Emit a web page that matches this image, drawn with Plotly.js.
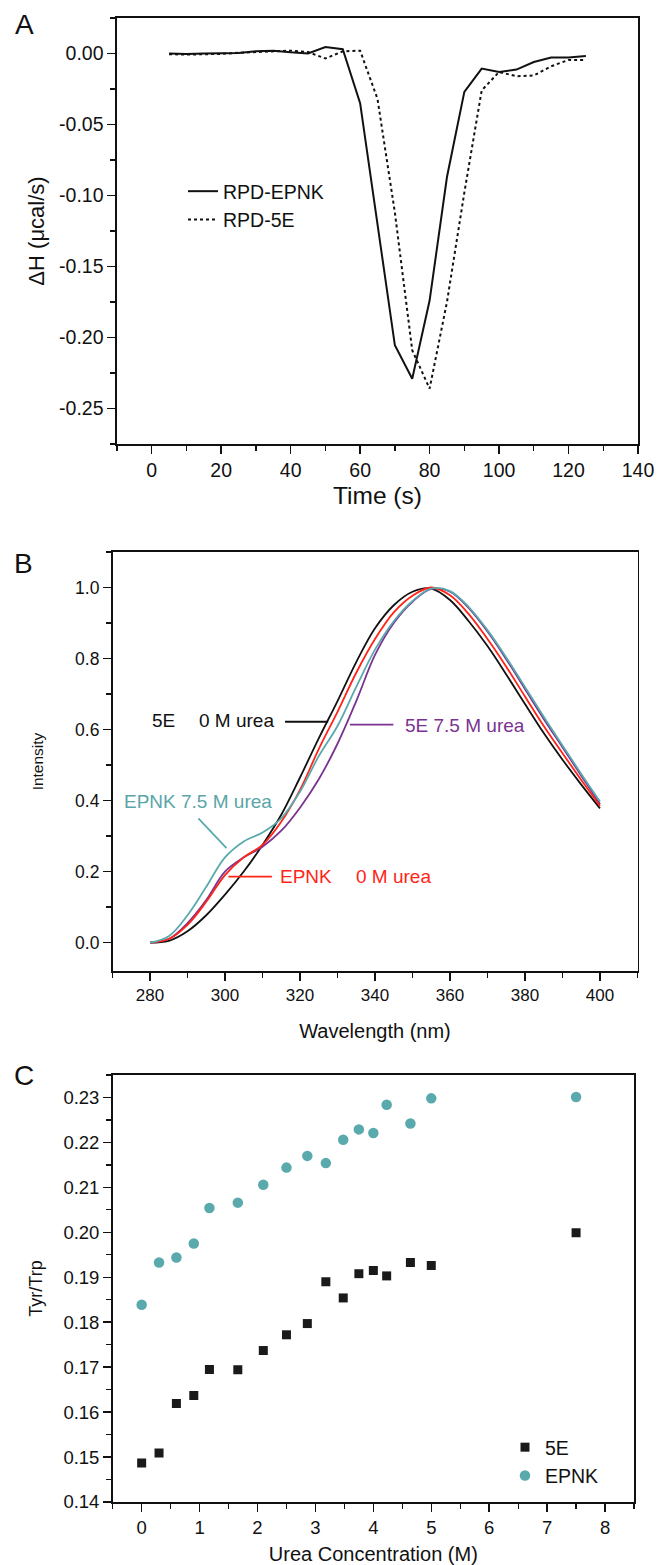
<!DOCTYPE html>
<html>
<head>
<meta charset="utf-8">
<script src="https://cdn.plot.ly/plotly-3.0.1.min.js"></script>
<style>html,body{margin:0;padding:0;background:#fff;}#chart{width:657px;height:1565px;}</style>
</head>
<body>
<div id="chart"></div>
<script>
// ---------- Panel A: ITC thermogram ----------
const timeS = [5,10,15,20,25,30,35,40,45,50,55,60,65,70,75,80,85,90,95,100,105,110,115,120,125];
const dhEPNK = [0,-0.0003,0,0,0.0003,0.0015,0.002,0.0008,0,0.0045,0.003,-0.035,-0.12,-0.2055,-0.229,-0.174,-0.087,-0.027,-0.0106,-0.013,-0.0113,-0.006,-0.0028,-0.0028,-0.0017];
const dh5E = [-0.0005,-0.0008,-0.0005,-0.0003,0.0005,0.001,0.0015,0.002,0.001,-0.0035,0.0015,0.002,-0.032,-0.112,-0.209,-0.236,-0.175,-0.098,-0.026,-0.013,-0.016,-0.0155,-0.009,-0.0045,-0.0045];
const dhTickVals = [0,-0.05,-0.10,-0.15,-0.20,-0.25];
const dhTickText = ['0.00','-0.05','-0.10','-0.15','-0.20','-0.25'];

// ---------- Panel B: fluorescence spectra ----------
const wavelength = [280,285,290,295,300,305,310,315,320,325,330,335,340,345,350,355,360,365,370,375,380,385,390,395,400];
const int5E0 = [0,0.005,0.032,0.077,0.135,0.2,0.275,0.36,0.465,0.575,0.68,0.79,0.885,0.95,0.988,0.997,0.965,0.905,0.835,0.755,0.672,0.59,0.515,0.445,0.378];
const intEPNK0 = [0,0.01,0.05,0.115,0.19,0.24,0.275,0.34,0.43,0.545,0.65,0.76,0.855,0.93,0.977,1.0,0.978,0.925,0.855,0.777,0.693,0.61,0.533,0.458,0.385];
const intEPNK75 = [0,0.018,0.077,0.157,0.24,0.285,0.31,0.35,0.425,0.525,0.61,0.72,0.825,0.905,0.962,0.997,0.99,0.945,0.88,0.803,0.72,0.636,0.555,0.475,0.397];
const int5E75 = [0,0.01,0.055,0.12,0.2,0.24,0.27,0.315,0.38,0.46,0.56,0.68,0.81,0.9,0.96,0.996,0.988,0.942,0.876,0.798,0.714,0.63,0.55,0.47,0.39];

// ---------- Panel C: Tyr/Trp ratio vs urea ----------
const ureaM = [0,0.3,0.6,0.9,1.17,1.66,2.1,2.5,2.86,3.18,3.48,3.75,4.0,4.23,4.64,5.0,7.5];
const ratio5E = [0.1487,0.1509,0.1619,0.1637,0.1695,0.1694,0.1737,0.1772,0.1797,0.189,0.1854,0.1908,0.1915,0.1903,0.1933,0.1926,0.1999];
const ratioEPNK = [0.1839,0.1933,0.1944,0.1975,0.2054,0.2066,0.2106,0.2144,0.217,0.2154,0.2206,0.2229,0.2221,0.2284,0.2242,0.2298,0.2301];

const FONT = 'Liberation Sans, Arial, Helvetica, sans-serif';
const BLACK = '#111111';
const TEAL = '#5aaaad';
const TEAL_TXT = '#5aa5a8';
const RED = '#ff2418';
const PURPLE = '#7b3391';

const traces = [
  {x: timeS, y: dhEPNK, xaxis:'x', yaxis:'y', mode:'lines', name:'RPD-EPNK', legend:'legend',
   line:{color:BLACK, width:2}},
  {x: timeS, y: dh5E, xaxis:'x', yaxis:'y', mode:'lines', name:'RPD-5E', legend:'legend',
   line:{color:BLACK, width:2, dash:'dot'}},
  {x: wavelength, y: int5E0, xaxis:'x2', yaxis:'y2', mode:'lines', name:'5E 0 M urea', showlegend:false,
   line:{color:BLACK, width:1.8, shape:'spline', smoothing:1}},
  {x: wavelength, y: int5E75, xaxis:'x2', yaxis:'y2', mode:'lines', name:'5E 7.5 M urea', showlegend:false,
   line:{color:PURPLE, width:1.8, shape:'spline', smoothing:1}},
  {x: wavelength, y: intEPNK0, xaxis:'x2', yaxis:'y2', mode:'lines', name:'EPNK 0 M urea', showlegend:false,
   line:{color:RED, width:1.8, shape:'spline', smoothing:1}},
  {x: wavelength, y: intEPNK75, xaxis:'x2', yaxis:'y2', mode:'lines', name:'EPNK 7.5 M urea', showlegend:false,
   line:{color:TEAL, width:1.8, shape:'spline', smoothing:1}},
  {x: ureaM, y: ratio5E, xaxis:'x3', yaxis:'y3', mode:'markers', name:'5E', legend:'legend2',
   marker:{symbol:'square', size:9, color:'#1a1a1a'}},
  {x: ureaM, y: ratioEPNK, xaxis:'x3', yaxis:'y3', mode:'markers', name:'EPNK', legend:'legend2',
   marker:{symbol:'circle', size:10.5, color:TEAL}}
];

function axisBase(extra) {
  return Object.assign({
    showline:true, linecolor:BLACK, linewidth:1.6, mirror:true,
    ticks:'outside', ticklen:8, tickwidth:1.5, tickcolor:BLACK,
    showgrid:false, zeroline:false, fixedrange:true,
    tickfont:{family:FONT, size:19, color:BLACK}
  }, extra);
}
function minor(dt) {
  return {dtick:dt, ticks:'outside', ticklen:5, tickwidth:1.3, tickcolor:BLACK, showgrid:false};
}

const H = 1565, W = 657;
const layout = {
  width:W, height:H,
  margin:{l:0, r:0, t:0, b:0},
  paper_bgcolor:'#ffffff', plot_bgcolor:'#ffffff',
  font:{family:FONT, color:BLACK},
  showlegend:true,
  xaxis: axisBase({domain:[117/W, 638/W], anchor:'y', range:[-10,140], dtick:20, tick0:0,
    minor:minor(10), tickfont:{family:FONT, size:19.5, color:BLACK},
    title:{text:'Time (s)', font:{family:FONT, size:24.5, color:BLACK}, standoff:7}}),
  yaxis: axisBase({domain:[1-444/H, 1-18/H], anchor:'x', range:[-0.275,0.025],
    tickmode:'array', tickvals:dhTickVals, ticktext:dhTickText,
    minor:{tickmode:'linear', tick0:0, dtick:0.025, ticks:'outside', ticklen:5, tickwidth:1.3, tickcolor:BLACK, showgrid:false},
    tickfont:{family:FONT, size:19.5, color:BLACK},
    title:{text:'ΔH (μcal/s)', font:{family:FONT, size:22, color:BLACK}, standoff:8}}),
  xaxis2: axisBase({domain:[112.5/W, 637.5/W], anchor:'y2', range:[270,410], dtick:20, tick0:280,
    minor:minor(10), tickfont:{family:FONT, size:17, color:BLACK},
    title:{text:'Wavelength (nm)', font:{family:FONT, size:20, color:BLACK}, standoff:20}}),
  yaxis2: axisBase({domain:[1-971/H, 1-552/H], anchor:'x2', range:[-0.08,1.1], dtick:0.2, tick0:0,
    tickformat:'.1f', minor:minor(0.1), tickfont:{family:FONT, size:17.5, color:BLACK},
    title:{text:'Intensity', font:{family:FONT, size:15.5, color:BLACK}, standoff:27}}),
  xaxis3: axisBase({domain:[112.7/W, 634/W], anchor:'y3', range:[-0.5,8.5], dtick:1, tick0:0,
    minor:minor(0.5), tickfont:{family:FONT, size:18.5, color:BLACK},
    title:{text:'Urea Concentration (M)', font:{family:FONT, size:20, color:BLACK}, standoff:14}}),
  yaxis3: axisBase({domain:[1-1502/H, 1-1075/H], anchor:'x3', range:[0.14,0.235], dtick:0.01, tick0:0.14,
    tickformat:'.2f', minor:minor(0.005), tickfont:{family:FONT, size:18.5, color:BLACK},
    title:{text:'Tyr/Trp', font:{family:FONT, size:18, color:BLACK}, standoff:16}}),
  legend:{x:183/W, y:1-172/H, xanchor:'left', yanchor:'top', bgcolor:'rgba(0,0,0,0)',
    font:{family:FONT, size:19.5, color:BLACK}, tracegroupgap:0, itemclick:false, itemdoubleclick:false},
  legend2:{x:505/W, y:1-1428/H, xanchor:'left', yanchor:'top', bgcolor:'rgba(0,0,0,0)',
    font:{family:FONT, size:19.5, color:BLACK}, tracegroupgap:0, itemclick:false, itemdoubleclick:false},
  annotations:[
    {text:'A', xref:'paper', yref:'paper', x:13/W, y:1-24/H, xanchor:'left', yanchor:'middle', showarrow:false,
     font:{family:FONT, size:28, color:BLACK}},
    {text:'B', xref:'paper', yref:'paper', x:12/W, y:1-563/H, xanchor:'left', yanchor:'middle', showarrow:false,
     font:{family:FONT, size:28, color:BLACK}},
    {text:'C', xref:'paper', yref:'paper', x:12/W, y:1-1075/H, xanchor:'left', yanchor:'middle', showarrow:false,
     font:{family:FONT, size:28, color:BLACK}},
    {text:'5E', xref:'x2', yref:'y2', x:280, y:0.625, xanchor:'left', yanchor:'middle', showarrow:false,
     font:{family:FONT, size:19, color:BLACK}},
    {text:'0 M urea', xref:'x2', yref:'y2', x:292.5, y:0.625, xanchor:'left', yanchor:'middle', showarrow:false,
     font:{family:FONT, size:19, color:BLACK}},
    {text:'5E 7.5 M urea', xref:'x2', yref:'y2', x:347.5, y:0.611, xanchor:'left', yanchor:'middle', showarrow:false,
     font:{family:FONT, size:19, color:PURPLE}},
    {text:'EPNK 7.5 M urea', xref:'x2', yref:'y2', x:272.5, y:0.397, xanchor:'left', yanchor:'middle', showarrow:false,
     font:{family:FONT, size:19, color:TEAL_TXT}},
    {text:'EPNK', xref:'x2', yref:'y2', x:314.2, y:0.186, xanchor:'left', yanchor:'middle', showarrow:false,
     font:{family:FONT, size:19, color:RED}},
    {text:'0 M urea', xref:'x2', yref:'y2', x:334.3, y:0.186, xanchor:'left', yanchor:'middle', showarrow:false,
     font:{family:FONT, size:19, color:RED}}
  ],
  shapes:[
    {type:'line', xref:'x2', yref:'y2', x0:316, x1:327.5, y0:0.622, y1:0.622, line:{color:BLACK, width:1.8}},
    {type:'line', xref:'x2', yref:'y2', x0:333.3, x1:344.9, y0:0.614, y1:0.614, line:{color:PURPLE, width:1.8}},
    {type:'line', xref:'x2', yref:'y2', x0:292.9, x1:300.4, y0:0.350, y1:0.266, line:{color:TEAL, width:1.8}},
    {type:'line', xref:'x2', yref:'y2', x0:300.9, x1:312.5, y0:0.186, y1:0.186, line:{color:RED, width:1.8}}
  ]
};

Plotly.newPlot('chart', traces, layout, {staticPlot:true, displayModeBar:false});
</script>
</body>
</html>
